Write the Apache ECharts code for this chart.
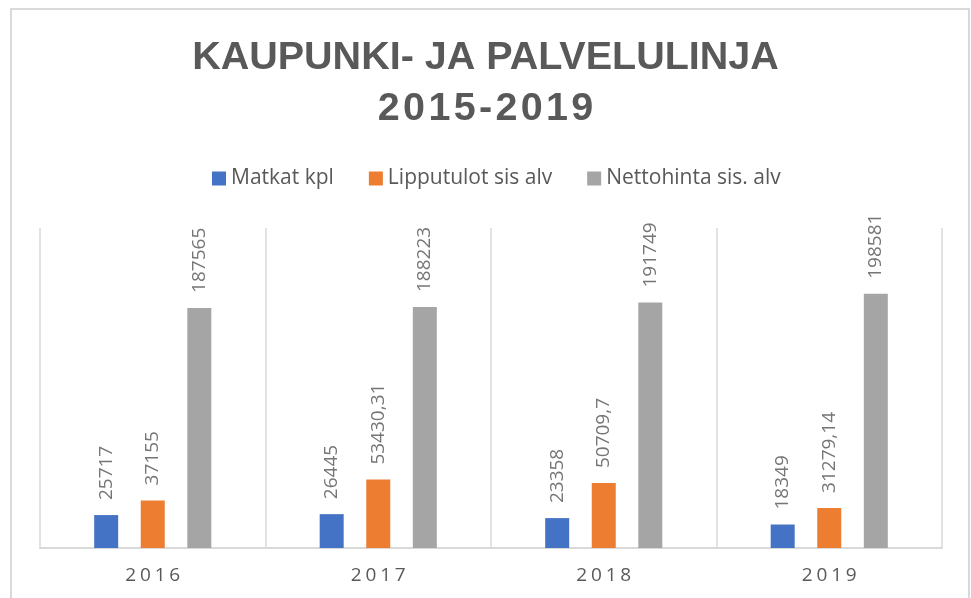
<!DOCTYPE html>
<html>
<head>
<meta charset="utf-8">
<script src="https://cdn.jsdelivr.net/npm/echarts@6/dist/echarts.min.js"></script>
<style>
  html, body { margin: 0; padding: 0; background: #fff; }
  #chart { width: 971px; height: 598px; }
</style>
</head>
<body>
<div id="chart"></div>
<script>
// Kaupunki- ja palvelulinja, vuodet 2016-2019
var years = ['2016', '2017', '2018', '2019'];
var matkat = [25717, 26445, 23358, 18349];
var lipputulot = [37155, 53430.31, 50709.7, 31279.14];
var nettohinta = [187565, 188223, 191749, 198581];
var seriesNames = ['Matkat kpl', 'Lipputulot sis alv', 'Nettohinta sis. alv'];
var COLORS = ['#4472c4', '#ed7d31', '#a5a5a5'];

var HAIR = '\u200A';

function spaced(s, gap) {
    return s.split('').join(gap || HAIR);
}

var chart = echarts.init(document.getElementById('chart'));

function barSeries(name, data, color) {
    return {
        name: name,
        type: 'bar',
        data: data,
        barWidth: 24,
        barGap: '94%',
        itemStyle: { color: color },
        label: {
            show: true,
            position: 'top',
            rotate: 90,
            align: 'left',
            verticalAlign: 'middle',
            distance: 15,
            color: '#767676',
            fontFamily: 'Open Sans',
            fontSize: 19,
            formatter: function(p) {
                return String(p.value).replace('.', ',');
            }
        }
    };
}

var option = {
    backgroundColor: '#fff',
    animation: false,
    color: COLORS,
    title: {
        text: 'KAUPUNKI- JA PALVELULINJA\n' + spaced('2015-2019'),
        left: 'center',
        top: 33,
        padding: [0, 0, 0, 11],
        textStyle: {
            fontFamily: 'Liberation Sans',
            fontWeight: 'bold',
            fontSize: 39.5,
            lineHeight: 51,
            color: '#595959'
        }
    },
    legend: {
        data: seriesNames,
        top: 163,
        left: 207,
        itemWidth: 14,
        itemHeight: 14,
        itemGap: 35,
        icon: 'rect',
        textStyle: {
            fontFamily: 'Open Sans',
            fontSize: 21,
            color: '#595959'
        }
    },
    grid: {
        left: 40,
        right: 29,
        top: 228,
        bottom: 50,
        containLabel: false
    },
    xAxis: {
        type: 'category',
        data: years,
        axisTick: { show: false },
        axisLine: { lineStyle: { color: '#d9d9d9', width: 2 } },
        splitLine: { show: true, lineStyle: { color: '#d9d9d9', width: 1.5 } },
        axisLabel: {
            margin: 18,
            color: '#595959',
            fontFamily: 'Open Sans',
            fontSize: 19,
            formatter: function(v) { return spaced(v, HAIR + HAIR); }
        }
    },
    yAxis: {
        type: 'value',
        min: 0,
        max: 250000,
        show: false,
        splitLine: { show: false }
    },
    series: [
        barSeries(seriesNames[0], matkat, COLORS[0]),
        barSeries(seriesNames[1], lipputulot, COLORS[1]),
        barSeries(seriesNames[2], nettohinta, COLORS[2])
    ],
    graphic: [{
        type: 'rect',
        shape: { x: 11, y: 9, width: 958, height: 600 },
        style: { fill: null, stroke: '#d9d9d9', lineWidth: 2 },
        silent: true
    }]
};

chart.setOption(option);
</script>
</body>
</html>
